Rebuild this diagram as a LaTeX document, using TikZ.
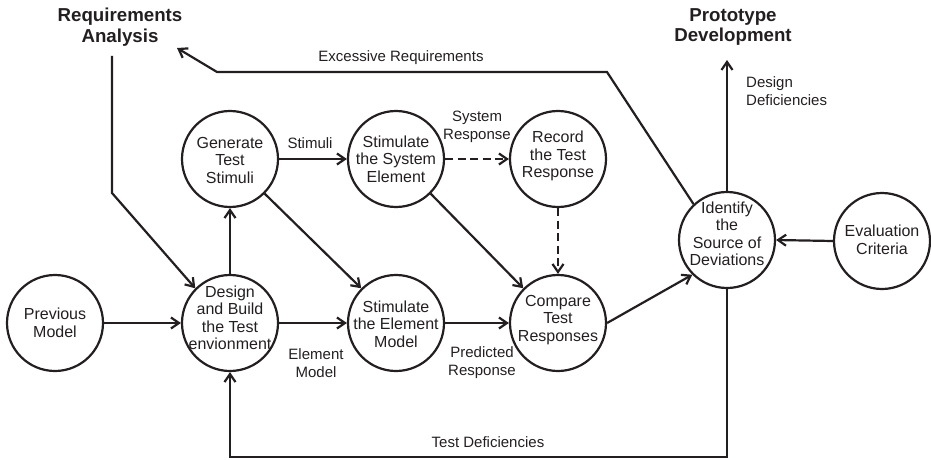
\documentclass[tikz,border=0pt]{standalone}
\usepackage{fontspec}
\setmainfont{Liberation Sans}
\usetikzlibrary{arrows.meta}
\definecolor{ink}{HTML}{231F20}
\begin{document}
\begin{tikzpicture}[x=1pt,y=-1pt,
  proc/.style={circle, draw=ink, line width=2.2pt, minimum size=96pt, inner sep=0pt},
  ptxt/.style={align=center, text=ink, inner sep=0pt, font=\fontsize{16}{17.5}\selectfont},
  lbl/.style={text=ink, align=center, inner sep=0pt, font=\fontsize{15}{18}\selectfont},
  ttl/.style={text=ink, align=center, inner sep=0pt, font=\fontsize{18.7}{20.5}\selectfont\bfseries},
  arr/.style={-{Straight Barb[length=8pt,width=11pt]}, line width=2.2pt, draw=ink},
  dsh/.style={arr, dash pattern=on 8pt off 4.5pt}
]
\path[use as bounding box] (0,0) rectangle (931,460);

\node[proc] (prev) at (55,323) {};
\node[proc] (design) at (230,323) {};
\node[proc] (gen) at (230,159) {};
\node[proc] (sse) at (396,159) {};
\node[proc] (rec) at (558,159) {};
\node[proc] (sem) at (396,323) {};
\node[proc] (cmp) at (558,323) {};
\node[proc] (idf) at (727,240) {};
\node[proc] (eval) at (882,241) {};

\node[ptxt] (tprev) at (55,323) {Previous\\Model};
\node[ptxt] (tdesign) at (230,318) {Design\\and Build\\the Test\\envionment};
\node[ptxt] (tgen) at (230,160) {Generate\\Test\\Stimuli};
\node[ptxt] (tsse) at (396,159) {Stimulate\\the System\\Element};
\node[ptxt] (trec) at (558,156) {Record\\the Test\\Response};
\node[ptxt] (tsem) at (396,324) {Stimulate\\the Element\\Model};
\node[ptxt] (tcmp) at (558,320) {Compare\\Test\\Responses};
\node[ptxt] (tidf) at (727,234) {Identify\\the\\Source of\\Deviations};
\node[ptxt] (teval) at (882,240) {Evaluation\\Criteria};

\node[ttl] (req) at (120,27) {Requirements\\Analysis};
\node[ttl] (proto) at (733,27) {Prototype\\Development};

\node[lbl] (lstim) at (310,143) {Stimuli};
\node[lbl] (lsys) at (477,127) {System\\Response};
\node[lbl] (lelem) at (316,363) {Element\\Model};
\node[lbl] (lpred) at (482,363) {Predicted\\Response};
\node[lbl] (lexc) at (401,58) {Excessive Requirements};
\node[lbl] (ltest) at (488,442) {Test Deficiencies};
\node[lbl, align=left, anchor=west] (ldes) at (746,91) {Design\\Deficiencies};

\coordinate (reqtop) at (112,56);
\coordinate (reqbend) at (112,193);
\coordinate (reqtip) at (177,48);
\coordinate (exbendR) at (607,72);
\coordinate (exbendL) at (217,72);
\coordinate (prototip) at (727,60);
\coordinate (botR) at (727,457);
\coordinate (botL) at (230,457);

\draw[arr] (prev.east) -- (design.west);
\draw[arr] (design.north) -- (gen.south);
\draw[arr] (design.east) -- (sem.west);
\draw[arr] (gen.east) -- (sse.west);
\draw[arr] (gen.-45) -- (sem.135);
\draw[arr] (sse.-45) -- (cmp.135);
\draw[dsh] (sse.east) -- (rec.west);
\draw[dsh] (rec.south) -- (cmp.north);
\draw[arr] (sem.east) -- (cmp.west);
\draw[arr] (cmp.east) -- (idf.225);
\draw[arr] (eval.west) -- (idf.east);
\draw[arr] (idf.north) -- (prototip);
\draw[arr] (idf.133) -- (exbendR) -- (exbendL) -- (reqtip);
\draw[arr] (reqtop) -- (reqbend) -- (design.135);
\draw[arr] (idf.south) -- (botR) -- (botL) -- (design.south);
\end{tikzpicture}
\end{document}
